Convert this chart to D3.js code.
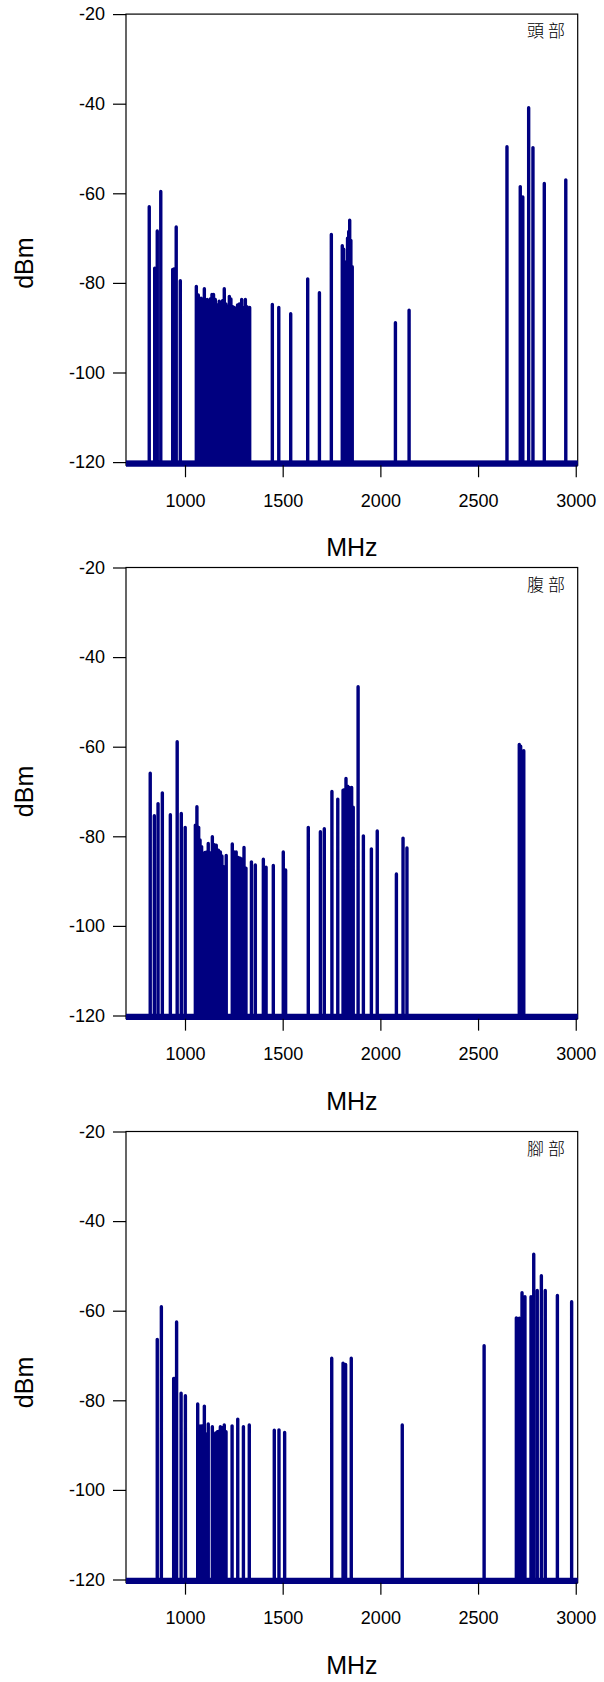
<!DOCTYPE html>
<html>
<head>
<meta charset="utf-8">
<script src="https://cdn.jsdelivr.net/npm/d3@7"></script>
<style>
  html, body { margin: 0; padding: 0; background: #fff; }
  svg { display: block; }
  text { font-family: "Liberation Sans", Arial, sans-serif; fill: #000; }
</style>
</head>
<body>
<script>
// ---------- data ----------
const panelLabels = ["頭部", "腹部", "腳部"];
const xTicks = [1000, 1500, 2000, 2500, 3000];
const yTicks = [-20, -40, -60, -80, -100, -120];
const baseLevel = -120;

const headFreq = [817, 845, 858, 876, 937, 943, 955, 976,
  1058, 1068, 1073, 1082, 1090, 1099, 1107, 1114, 1124, 1131, 1138, 1146, 1155, 1165, 1175, 1184, 1192, 1201, 1209, 1218, 1227, 1235, 1244, 1252, 1261, 1269, 1278, 1290, 1300, 1309, 1317, 1331,
  1447, 1480, 1541, 1628, 1688, 1749, 1805, 1812, 1820, 1826, 1832, 1838, 1843, 1849, 1856,
  2077, 2147, 2648, 2716, 2729, 2759, 2781, 2839, 2949];
const headDbm = [-63.0, -76.7, -68.4, -59.6, -77.0, -76.9, -67.5, -79.5,
  -80.8, -82.7, -83.9, -83.4, -84.7, -81.3, -86.8, -83.7, -85.0, -83.5, -82.6, -82.6, -83.7, -84.9, -84.1, -85.3, -84.0, -81.3, -84.7, -85.5, -83.0, -83.6, -85.3, -85.5, -85.9, -84.9, -84.7, -83.7, -85.6, -83.7, -85.3, -85.5,
  -84.8, -85.5, -86.9, -79.1, -82.2, -69.2, -71.7, -72.5, -75.3, -75.5, -70.0, -68.5, -66.0, -70.5, -76.4,
  -88.9, -86.1, -49.6, -58.5, -60.8, -40.9, -49.8, -57.8, -57.0];

const bellyFreq = [822, 843, 862, 884, 925, 960, 981, 1001,
  1053, 1061, 1070, 1077, 1085, 1094, 1102, 1111, 1119, 1130, 1140, 1150, 1160, 1171, 1181, 1189, 1198, 1211,
  1242, 1252, 1262, 1273, 1283, 1292, 1302, 1312, 1340, 1360, 1401, 1415, 1452, 1503, 1515,
  1631, 1693, 1713, 1752, 1782, 1809, 1816, 1824, 1832, 1841, 1853, 1861, 1886, 1913, 1954, 1984,
  2082, 2116, 2136, 2711, 2718, 2727, 2734];
const bellyDbm = [-65.9, -75.4, -72.7, -70.3, -75.2, -58.9, -74.9, -78.0,
  -77.5, -73.4, -78.0, -80.8, -82.3, -84.9, -83.6, -83.5, -81.6, -83.7, -80.1, -81.9, -82.0, -83.1, -83.5, -84.4, -86.8, -84.3,
  -81.7, -83.5, -83.5, -84.7, -84.9, -85.1, -82.5, -87.1, -85.7, -86.4, -85.1, -86.9, -86.5, -83.5, -87.5,
  -78.0, -79.0, -78.3, -70.0, -71.7, -69.7, -69.6, -67.1, -68.8, -69.1, -69.1, -73.5, -46.6, -79.9, -82.8, -78.8,
  -88.4, -80.4, -82.6, -59.5, -59.9, -61.1, -60.9];

const footFreq = [858, 879, 942, 947, 957, 980, 1002,
  1065, 1073, 1082, 1090, 1099, 1107, 1119, 1140, 1157, 1166, 1174, 1181, 1191, 1201, 1210, 1241, 1270, 1299, 1329,
  1457, 1481, 1510, 1751, 1809, 1822, 1851, 2112, 2531,
  2696, 2711, 2725, 2740, 2771, 2785, 2803, 2824, 2844, 2906, 2979];
const footDbm = [-66.4, -59.1, -75.1, -75.1, -62.5, -78.4, -79.0,
  -80.8, -85.7, -85.7, -85.7, -81.3, -87.5, -85.3, -85.9, -87.3, -87.0, -86.9, -85.9, -86.1, -85.5, -87.0, -85.7, -84.2, -85.9, -85.5,
  -86.7, -86.6, -87.2, -70.6, -71.7, -72.0, -70.6, -85.5, -67.8,
  -61.6, -61.7, -56.0, -56.9, -56.9, -47.4, -55.5, -52.2, -55.5, -56.6, -58.0];

const panels = [
  { label: panelLabels[0], freq: headFreq, dbm: headDbm },
  { label: panelLabels[1], freq: bellyFreq, dbm: bellyDbm },
  { label: panelLabels[2], freq: footFreq, dbm: footDbm }
];

// ---------- layout ----------
const W = 604, H = 1682;
const panelTops = [14.1, 567.5, 1131.5];
const yTitleShift = [25, 0, 27];
const plotLeft = 126, plotRight = 577.7, plotH = 448;
const xDomain = [698, 3010];

const svg = d3.select("body").append("svg").attr("width", W).attr("height", H);

const x = d3.scaleLinear().domain(xDomain).range([plotLeft, plotRight]);

panels.forEach((p, i) => {
  const top = panelTops[i];
  const y = d3.scaleLinear().domain([-120, -20]).range([top + plotH, top]);
  const frameBottom = y(-120.7);
  const g = svg.append("g");

  // frame
  g.append("rect")
    .attr("x", plotLeft).attr("y", top)
    .attr("width", plotRight - plotLeft).attr("height", frameBottom - top)
    .attr("fill", "none").attr("stroke", "#000").attr("stroke-width", 1.2);

  // series: baseline with vertical spikes
  const pts = [[xDomain[0], baseLevel]];
  p.freq.forEach((f, k) => {
    pts.push([f, baseLevel], [f, p.dbm[k]], [f, baseLevel]);
  });
  pts.push([xDomain[1], baseLevel]);
  const line = d3.line().x(d => x(d[0])).y(d => y(d[1]));

  // thick floor band along the -120 level
  g.append("path")
    .attr("d", line([[xDomain[0], baseLevel], [xDomain[1], baseLevel]]))
    .attr("transform", "translate(0,1.6)")
    .attr("fill", "none")
    .attr("stroke", "#000080")
    .attr("stroke-width", 6);

  g.append("path")
    .attr("d", line(pts))
    .attr("fill", "none")
    .attr("stroke", "#000080")
    .attr("stroke-width", 3.4)
    .attr("stroke-linejoin", "round")
    .attr("stroke-linecap", "butt");

  // y axis
  const ya = g.append("g").attr("transform", `translate(${plotLeft},0)`)
    .call(d3.axisLeft(y).tickValues(yTicks).tickSize(13).tickPadding(8).tickFormat(d => String(d)));
  ya.select(".domain").remove();
  ya.selectAll("line").attr("stroke", "#000").attr("stroke-width", 1.2);
  ya.selectAll("text").attr("font-size", 18).attr("font-family", "Liberation Sans, Arial, sans-serif");

  // x axis
  const xa = g.append("g").attr("transform", `translate(0,${frameBottom})`)
    .call(d3.axisBottom(x).tickValues(xTicks).tickSize(12).tickPadding(17).tickFormat(d => String(d)));
  xa.select(".domain").remove();
  xa.selectAll("line").attr("stroke", "#000").attr("stroke-width", 1.2);
  xa.selectAll("text").attr("font-size", 18).attr("font-family", "Liberation Sans, Arial, sans-serif");

  // axis titles
  g.append("text")
    .attr("x", (plotLeft + plotRight) / 2).attr("y", top + 542)
    .attr("text-anchor", "middle").attr("font-size", 25)
    .text("MHz");
  g.append("text")
    .attr("transform", `translate(${24},${top + plotH / 2 + yTitleShift[i]}) rotate(-90)`)
    .attr("dy", "0.35em")
    .attr("text-anchor", "middle").attr("font-size", 25)
    .text("dBm");

  // panel label
  g.append("text")
    .attr("x", 527).attr("y", top + 23)
    .attr("font-size", 17)
    .attr("letter-spacing", 4)
    .style("font-family", "'Noto Sans CJK TC', 'Noto Sans CJK SC', sans-serif")
    .style("font-weight", 300)
    .text(p.label);
});
</script>
</body>
</html>
